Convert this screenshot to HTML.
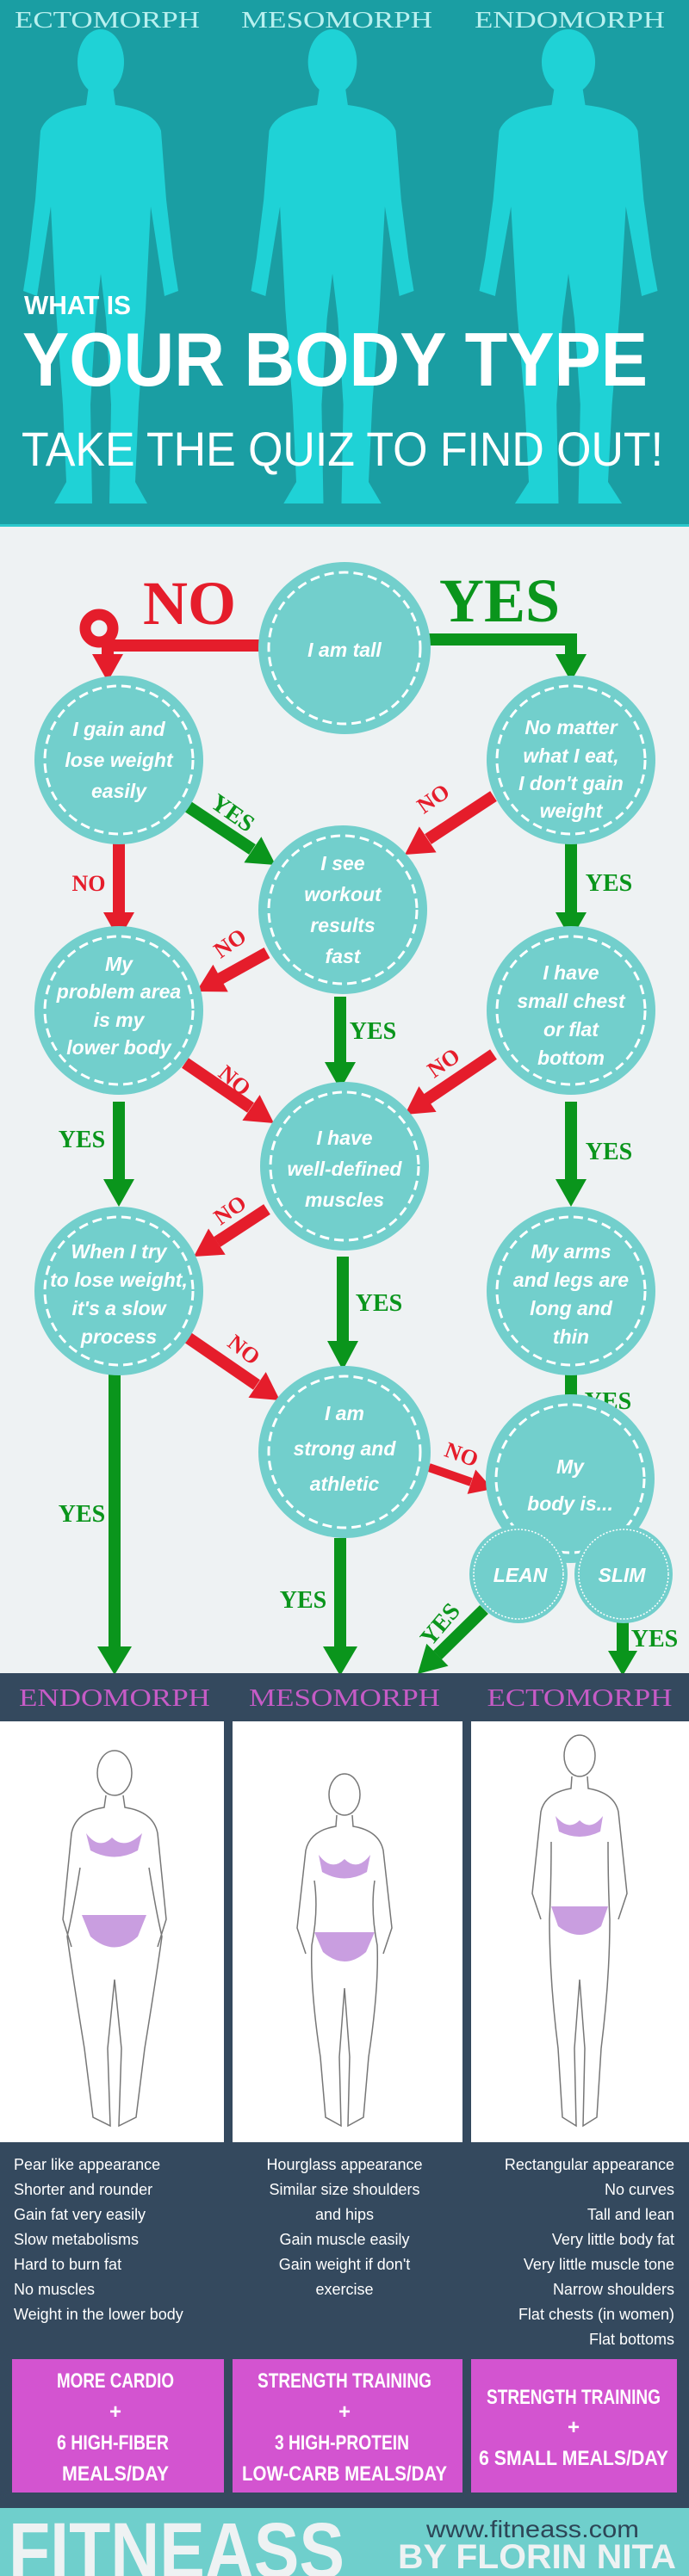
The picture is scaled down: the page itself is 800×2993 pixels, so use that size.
<!DOCTYPE html>
<html><head><meta charset="utf-8"><style>
html,body{margin:0;padding:0;background:#eef2f3}
svg{display:block}
.c{fill:#72cfcc}
.r{fill:none;stroke:#fff;stroke-width:3;stroke-dasharray:11 6}
.t{font-family:"Liberation Sans",sans-serif;font-weight:bold;font-style:italic;fill:#fff;text-anchor:middle;font-size:23px}
.g{stroke:#0a951c;stroke-width:14;fill:none}
.rd{stroke:#e51d2b;stroke-width:14;fill:none}
.gf{fill:#0a951c}.rf{fill:#e51d2b}
.ly{font-family:"Liberation Serif",serif;font-weight:bold;fill:#0a951c;font-size:28px;text-anchor:middle}
.ln{font-family:"Liberation Serif",serif;font-weight:bold;fill:#e51d2b;font-size:26px;text-anchor:middle}
.li{font-family:"Liberation Sans",sans-serif;fill:#fff;font-size:18px}
.pk{font-family:"Liberation Sans",sans-serif;font-weight:bold;fill:#fff;font-size:24px;text-anchor:middle}
</style></head><body>
<svg width="800" height="2993" viewBox="0 0 800 2993" xmlns="http://www.w3.org/2000/svg">
<defs>
<g id="man">
<ellipse cx="0" cy="72" rx="27" ry="38" />
<path d="M-14,100 L14,100 L17,122 Q62,128 70,152 L76,232 L84,300 L90,338 L74,344 L66,292 L58,240 L55,300 L52,360 L44,470 L40,560 L54,585 L10,585 L12,470 L6,370 L0,318 L-6,370 L-12,470 L-10,585 L-54,585 L-40,560 L-44,470 L-52,360 L-55,300 L-58,240 L-66,292 L-74,344 L-90,338 L-84,300 L-76,232 L-70,152 Q-62,128 -17,122 Z"/>
</g>
</defs>
<!-- header -->
<rect x="0" y="0" width="800" height="612" fill="#1a9ea3"/>
<rect x="0" y="609" width="800" height="3" fill="#2cc9cc"/>
<g fill="#1fd2d6">
<use href="#man" transform="translate(117,0)"/>
<use href="#man" transform="translate(386,0) scale(1.05,1)"/>
<use href="#man" transform="translate(660,0) scale(1.15,1)"/>
</g>
<g font-family="Liberation Serif,serif" font-size="27" fill="#b8f0ef">
<text x="17" y="32" textLength="215" lengthAdjust="spacingAndGlyphs">ECTOMORPH</text>
<text x="280" y="32" textLength="222" lengthAdjust="spacingAndGlyphs">MESOMORPH</text>
<text x="551" y="32" textLength="221" lengthAdjust="spacingAndGlyphs">ENDOMORPH</text>
</g>
<g font-family="Liberation Sans,sans-serif" fill="#fff" font-weight="bold">
<text x="28" y="365" font-size="31" textLength="124" lengthAdjust="spacingAndGlyphs">WHAT IS</text>
<text x="26" y="448" font-size="88" textLength="726" lengthAdjust="spacingAndGlyphs">YOUR BODY TYPE</text>
</g>
<text x="25" y="541" font-family="Liberation Sans,sans-serif" fill="#fff" font-size="56" textLength="745" lengthAdjust="spacingAndGlyphs">TAKE THE QUIZ TO FIND OUT!</text>

<!-- flowchart connectors -->
<path class="rd" d="M305,750 L125,750"/>
<circle cx="115" cy="730" r="16" fill="none" stroke="#e51d2b" stroke-width="13"/>
<path class="rd" d="M125,745 L125,762"/>
<polygon class="rf" points="107,760 143,760 125,792"/>
<text x="220" y="725" font-family="Liberation Serif,serif" font-weight="bold" font-size="72" fill="#e51d2b" text-anchor="middle">NO</text>
<path class="g" d="M495,743 L663,743 L663,762"/>
<polygon class="gf" points="645,760 681,760 663,792"/>
<text x="580" y="722" font-family="Liberation Serif,serif" font-weight="bold" font-size="72" fill="#0a951c" text-anchor="middle">YES</text>

<path class="g" d="M215,935 L293,987"/><polygon class="gf" points="283.4,1002.2 303.4,972.2 320,1005"/>
<text class="ly" transform="translate(265,952) rotate(35)">YES</text>
<path class="rd" d="M138,980 L138,1062"/><polygon class="rf" points="120,1060 156,1060 138,1092"/>
<text class="ln" x="103" y="1035">NO</text>
<path class="rd" d="M573,925 L497,975"/><polygon class="rf" points="486.8,960.4 506.6,990.4 470,993"/>
<text class="ln" transform="translate(508,935) rotate(-35)">NO</text>
<path class="g" d="M663,980 L663,1062"/><polygon class="gf" points="645,1060 681,1060 663,1092"/>
<text class="ly" x="707" y="1035">YES</text>

<path class="rd" d="M310,1107 L256,1137"/><polygon class="rf" points="247.4,1120.8 264.8,1152.4 228,1152"/>
<text class="ln" transform="translate(272,1103) rotate(-35)">NO</text>
<path class="g" d="M395,1158 L395,1236"/><polygon class="gf" points="377,1234 413,1234 395,1266"/>
<text class="ly" x="433" y="1207">YES</text>
<path class="rd" d="M215,1235 L291,1287"/><polygon class="rf" points="281.4,1301.9 301.6,1272.1 318,1305"/>
<text class="ln" transform="translate(267,1262) rotate(40)">NO</text>
<path class="rd" d="M573,1225 L496,1277"/><polygon class="rf" points="486.4,1262.1 506.6,1291.9 470,1295"/>
<text class="ln" transform="translate(520,1242) rotate(-35)">NO</text>
<path class="g" d="M138,1280 L138,1372"/><polygon class="gf" points="120,1370 156,1370 138,1402"/>
<text class="ly" x="95" y="1333">YES</text>
<path class="g" d="M663,1280 L663,1372"/><polygon class="gf" points="645,1370 681,1370 663,1402"/>
<text class="ly" x="707" y="1347">YES</text>

<path class="rd" d="M310,1405 L252,1443"/><polygon class="rf" points="242.1,1427.5 261.7,1457.7 225,1460"/>
<text class="ln" transform="translate(272,1413) rotate(-35)">NO</text>
<path class="g" d="M398,1460 L398,1560"/><polygon class="gf" points="380,1558 416,1558 398,1592"/>
<text class="ly" x="440" y="1523">YES</text>
<path class="rd" d="M215,1552 L298,1609"/><polygon class="rf" points="288.5,1623.9 308.7,1594.1 325,1627"/>
<text class="ln" transform="translate(278,1575) rotate(38)">NO</text>
<path class="g" d="M663,1597 L663,1640"/><polygon class="gf" points="645,1638 681,1638 663,1668"/>
<text class="ly" x="706" y="1637">YES</text>
<path class="rd" style="stroke-width:10" d="M498,1705 L547,1722"/><polygon class="rf" points="542.6,1735.9 552.2,1707.5 572,1730"/>
<text class="ln" transform="translate(533,1698) rotate(20)">NO</text>
<path class="g" d="M133,1595 L133,1915"/><polygon class="gf" points="113,1913 153,1913 133,1946"/>
<text class="ly" x="95" y="1768">YES</text>
<path class="g" d="M395,1787 L395,1915"/><polygon class="gf" points="375,1913 415,1913 395,1947"/>
<text class="ly" x="352" y="1868">YES</text>
<path class="g" d="M562,1870 L508,1923"/><polygon class="gf" points="495.3,1909.8 520.5,1935.6 485,1945"/>
<text class="ly" transform="translate(518,1893) rotate(-50)">YES</text>
<path class="g" d="M723,1878 L723,1920"/><polygon class="gf" points="706,1918 740,1918 723,1947"/>
<text class="ly" x="760" y="1913">YES</text>

<!-- circles -->
<circle class="c" cx="400" cy="753" r="100"/><circle class="r" cx="400" cy="753" r="88"/>
<text class="t" x="400" y="763" font-size="28">I am tall</text>

<circle class="c" cx="138" cy="883" r="98"/><circle class="r" cx="138" cy="883" r="86"/>
<text class="t" x="138" y="855">I gain and</text><text class="t" x="138" y="891">lose weight</text><text class="t" x="138" y="927">easily</text>

<circle class="c" cx="663" cy="883" r="98"/><circle class="r" cx="663" cy="883" r="86"/>
<text class="t" x="663" y="853" font-size="20">No matter</text><text class="t" x="663" y="886" font-size="20">what I eat,</text><text class="t" x="663" y="918" font-size="20">I don't gain</text><text class="t" x="663" y="950" font-size="20">weight</text>

<circle class="c" cx="398" cy="1057" r="98"/><circle class="r" cx="398" cy="1057" r="86"/>
<text class="t" x="398" y="1011">I see</text><text class="t" x="398" y="1047">workout</text><text class="t" x="398" y="1083">results</text><text class="t" x="398" y="1119">fast</text>

<circle class="c" cx="138" cy="1174" r="98"/><circle class="r" cx="138" cy="1174" r="86"/>
<text class="t" x="138" y="1128" font-size="20">My</text><text class="t" x="138" y="1160" font-size="20">problem area</text><text class="t" x="138" y="1193" font-size="20">is my</text><text class="t" x="138" y="1225" font-size="20">lower body</text>

<circle class="c" cx="663" cy="1174" r="98"/><circle class="r" cx="663" cy="1174" r="86"/>
<text class="t" x="663" y="1138" font-size="21">I have</text><text class="t" x="663" y="1171" font-size="21">small chest</text><text class="t" x="663" y="1204" font-size="21">or flat</text><text class="t" x="663" y="1237" font-size="21">bottom</text>

<circle class="c" cx="400" cy="1355" r="98"/><circle class="r" cx="400" cy="1355" r="86"/>
<text class="t" x="400" y="1330">I have</text><text class="t" x="400" y="1366">well-defined</text><text class="t" x="400" y="1402">muscles</text>

<circle class="c" cx="138" cy="1500" r="98"/><circle class="r" cx="138" cy="1500" r="86"/>
<text class="t" x="138" y="1462" font-size="21">When I try</text><text class="t" x="138" y="1495" font-size="21">to lose weight,</text><text class="t" x="138" y="1528" font-size="21">it's a slow</text><text class="t" x="138" y="1561" font-size="21">process</text>

<circle class="c" cx="663" cy="1500" r="98"/><circle class="r" cx="663" cy="1500" r="86"/>
<text class="t" x="663" y="1462" font-size="21">My arms</text><text class="t" x="663" y="1495" font-size="21">and legs are</text><text class="t" x="663" y="1528" font-size="21">long and</text><text class="t" x="663" y="1561" font-size="21">thin</text>

<circle class="c" cx="400" cy="1687" r="100"/><circle class="r" cx="400" cy="1687" r="88"/>
<text class="t" x="400" y="1650" font-size="26">I am</text><text class="t" x="400" y="1691" font-size="26">strong and</text><text class="t" x="400" y="1732" font-size="26">athletic</text>

<circle class="c" cx="662" cy="1718" r="98"/><circle class="r" cx="662" cy="1718" r="86"/>
<circle class="c" cx="602" cy="1829" r="57"/><circle cx="602" cy="1829" r="52" fill="none" stroke="#fff" stroke-width="1.5" stroke-dasharray="2 2"/>
<circle class="c" cx="724" cy="1829" r="57"/><circle cx="724" cy="1829" r="52" fill="none" stroke="#fff" stroke-width="1.5" stroke-dasharray="2 2"/>
<text class="t" x="662" y="1712" font-size="28">My</text><text class="t" x="662" y="1755" font-size="28">body is...</text>
<text class="t" x="604" y="1838" font-size="24" font-style="normal">LEAN</text><text class="t" x="722" y="1838" font-size="24" font-style="normal">SLIM</text>

<!-- results -->
<rect x="0" y="1944" width="800" height="1049" fill="#34495e"/>
<g font-family="Liberation Serif,serif" font-size="28" fill="#c65bc6" text-anchor="middle">
<text x="133" y="1982" textLength="222" lengthAdjust="spacingAndGlyphs">ENDOMORPH</text>
<text x="400" y="1982" textLength="222" lengthAdjust="spacingAndGlyphs">MESOMORPH</text>
<text x="673" y="1982" textLength="215" lengthAdjust="spacingAndGlyphs">ECTOMORPH</text>
</g>
<rect x="0" y="2000" width="260" height="489" fill="#fff"/>
<rect x="270" y="2000" width="267" height="489" fill="#fff"/>
<rect x="547" y="2000" width="253" height="489" fill="#fff"/>
<g fill="none" stroke="#777" stroke-width="1.5">
<g transform="translate(133,0)">
<ellipse cx="0" cy="2060" rx="20" ry="26"/>
<path d="M-10,2086 L-12,2100 Q-45,2105 -50,2130 L-60,2230 L-50,2262 M10,2086 L12,2100 Q45,2105 50,2130 L60,2230 L50,2262 M-40,2170 Q-48,2220 -55,2250 Q-48,2300 -35,2380 L-25,2460 L-5,2470 L-8,2380 L0,2300 M40,2170 Q48,2220 55,2250 Q48,2300 35,2380 L25,2460 L5,2470 L8,2380 L0,2300"/>
</g>
<g transform="translate(400,0)">
<ellipse cx="0" cy="2085" rx="18" ry="24"/>
<path d="M-9,2109 L-10,2122 Q-40,2127 -45,2150 L-55,2240 L-45,2270 M9,2109 L10,2122 Q40,2127 45,2150 L55,2240 L45,2270 M-35,2185 Q-30,2220 -38,2260 Q-40,2310 -28,2390 L-22,2460 L-4,2470 L-6,2390 L0,2310 M35,2185 Q30,2220 38,2260 Q40,2310 28,2390 L22,2460 L4,2470 L6,2390 L0,2310"/>
</g>
<g transform="translate(673,0)">
<ellipse cx="0" cy="2040" rx="18" ry="24"/>
<path d="M-9,2064 L-10,2078 Q-40,2083 -45,2105 L-55,2200 L-45,2230 M9,2064 L10,2078 Q40,2083 45,2105 L55,2200 L45,2230 M-33,2140 Q-33,2190 -35,2230 Q-35,2300 -25,2380 L-20,2460 L-4,2470 L-6,2380 L0,2300 M33,2140 Q33,2190 35,2230 Q35,2300 25,2380 L20,2460 L4,2470 L6,2380 L0,2300"/>
</g>
</g>
<g fill="#c99ee0">
<path d="M100,2130 Q115,2150 130,2135 Q145,2150 165,2130 L160,2150 Q133,2165 105,2150 Z"/>
<path d="M95,2225 L170,2225 L160,2250 Q133,2275 105,2250 Z"/>
<path d="M370,2155 Q385,2175 400,2160 Q415,2175 430,2155 L426,2175 Q400,2190 374,2175 Z"/>
<path d="M365,2245 L435,2245 L425,2268 Q400,2290 375,2268 Z"/>
<path d="M645,2110 Q660,2128 673,2115 Q686,2128 700,2110 L697,2128 Q673,2140 649,2128 Z"/>
<path d="M640,2215 L706,2215 L698,2238 Q673,2258 648,2238 Z"/>
</g>

<g class="li">
<text x="16" y="2521">Pear like appearance</text>
<text x="16" y="2550">Shorter and rounder</text>
<text x="16" y="2579">Gain fat very easily</text>
<text x="16" y="2608">Slow metabolisms</text>
<text x="16" y="2637">Hard to burn fat</text>
<text x="16" y="2666">No muscles</text>
<text x="16" y="2695">Weight in the lower body</text>
</g>
<g class="li" text-anchor="middle">
<text x="400" y="2521">Hourglass appearance</text>
<text x="400" y="2550">Similar size shoulders</text>
<text x="400" y="2579">and hips</text>
<text x="400" y="2608">Gain muscle easily</text>
<text x="400" y="2637">Gain weight if don't</text>
<text x="400" y="2666">exercise</text>
</g>
<g class="li" text-anchor="end">
<text x="783" y="2521">Rectangular appearance</text>
<text x="783" y="2550">No curves</text>
<text x="783" y="2579">Tall and lean</text>
<text x="783" y="2608">Very little body fat</text>
<text x="783" y="2637">Very little muscle tone</text>
<text x="783" y="2666">Narrow shoulders</text>
<text x="783" y="2695">Flat chests (in women)</text>
<text x="783" y="2724">Flat bottoms</text>
</g>

<rect x="14" y="2741" width="246" height="155" fill="#d354d0"/>
<rect x="270" y="2741" width="267" height="155" fill="#d354d0"/>
<rect x="547" y="2741" width="239" height="155" fill="#d354d0"/>
<g class="pk">
<text x="134" y="2774" textLength="136" lengthAdjust="spacingAndGlyphs">MORE CARDIO</text>
<text x="134" y="2810">+</text>
<text x="131" y="2846" textLength="130" lengthAdjust="spacingAndGlyphs">6 HIGH-FIBER</text>
<text x="134" y="2882" textLength="124" lengthAdjust="spacingAndGlyphs">MEALS/DAY</text>
<text x="400" y="2774" textLength="202" lengthAdjust="spacingAndGlyphs">STRENGTH TRAINING</text>
<text x="400" y="2810">+</text>
<text x="397" y="2846" textLength="156" lengthAdjust="spacingAndGlyphs">3 HIGH-PROTEIN</text>
<text x="400" y="2882" textLength="238" lengthAdjust="spacingAndGlyphs">LOW-CARB MEALS/DAY</text>
<text x="666" y="2793" textLength="202" lengthAdjust="spacingAndGlyphs">STRENGTH TRAINING</text>
<text x="666" y="2828">+</text>
<text x="666" y="2864" textLength="220" lengthAdjust="spacingAndGlyphs">6 SMALL MEALS/DAY</text>
</g>

<rect x="0" y="2914" width="800" height="79" fill="#6fcfcc"/>
<text x="10" y="2995" font-family="Liberation Sans,sans-serif" font-weight="bold" font-size="92" fill="#eef2f3" textLength="390" lengthAdjust="spacingAndGlyphs">FITNEASS</text>
<text x="495" y="2948" font-family="Liberation Sans,sans-serif" font-size="28" fill="#2d4657" textLength="247" lengthAdjust="spacingAndGlyphs">www.fitneass.com</text>
<text x="462" y="2984" font-family="Liberation Sans,sans-serif" font-weight="bold" font-size="40" fill="#eef2f3" textLength="323" lengthAdjust="spacingAndGlyphs">BY FLORIN NITA</text>
</svg>
</body></html>
